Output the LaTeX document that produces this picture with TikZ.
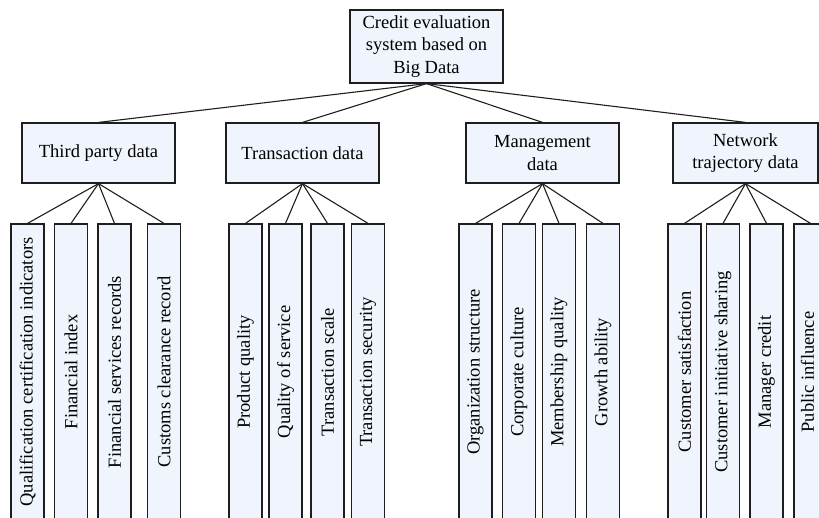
\documentclass[tikz,border=0pt]{standalone}
\usepackage{fontspec}
\setmainfont{Liberation Serif}
\definecolor{boxfill}{RGB}{240,244,252}
\definecolor{edge}{RGB}{30,30,30}
\tikzset{
  box/.style={draw=edge, line width=1.2pt, fill=boxfill, inner sep=0pt,
    align=center, font=\fontsize{18.5}{22.5}\selectfont},
  hbox/.style={box, minimum width=153pt, minimum height=60pt},
  leaf/.style={box, minimum width=33pt, minimum height=296pt},
  link/.style={line width=1.1pt, draw=edge},
  vtext/.style={inner sep=0pt, font=\fontsize{18.5}{22.5}\selectfont}
}
\begin{document}
\begin{tikzpicture}[x=1pt, y=-1pt]
  \useasboundingbox (0,0) rectangle (819,518);
  \clip (0,0) rectangle (819,518);

  % root
  \node[box, minimum width=153pt, minimum height=73pt] (root) at (426.5,46.5)
    {Credit evaluation\\system based on\\Big Data};

  % second level
  \node[hbox] (tp) at (98.5,153) {Third party data};
  \node[hbox] (tr) at (302.5,153) {Transaction data};
  \node[hbox] (mg) at (542.5,153) {Management\\data};
  \node[hbox, minimum width=145pt] (nt) at (745.5,153) {Network\\trajectory data};

  \foreach \c in {tp,tr,mg,nt}
    \draw[link] (root.south) -- (\c.north);

  % leaves
  \foreach \n/\x/\p/\t in {
      l1/27.5/tp/Qualification certification indicators,
      l2/71/tp/Financial index,
      l3/114.5/tp/Financial services records,
      l4/164/tp/Customs clearance record,
      l5/245.5/tr/Product quality,
      l6/285.5/tr/Quality of service,
      l7/327.5/tr/Transaction scale,
      l8/368/tr/Transaction security,
      l9/475.5/mg/Organization structure,
      l10/519/mg/Corporate culture,
      l11/559/mg/Membership quality,
      l12/603/mg/Growth ability,
      l13/684.5/nt/Customer satisfaction,
      l14/723/nt/Customer initiative sharing,
      l15/766.5/nt/Manager credit}
  {
    \node[leaf] (\n) at (\x,372) {\rotatebox{90}{\t}};
    \draw[link] (\p.south) -- (\n.north);
  }

  % last leaf runs off the right edge; its label sits a little left of centre
  \node[leaf] (l16) at (810.5,372) {};
  \node[vtext] (l16t) at (807.5,372) {\rotatebox{90}{Public influence}};
  \draw[link] (nt.south) -- (l16.north);
\end{tikzpicture}
\end{document}
